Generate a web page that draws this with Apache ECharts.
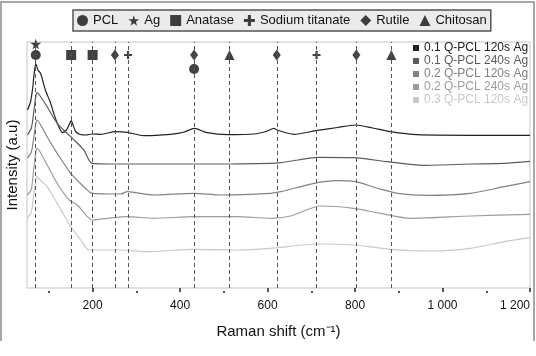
<!DOCTYPE html>
<html>
<head>
<meta charset="utf-8">
<script src="https://cdn.jsdelivr.net/npm/echarts@6/dist/echarts.min.js"></script>
<style>
  html, body { margin: 0; padding: 0; background: #fff; }
  #chart { width: 536px; height: 356px; }
</style>
</head>
<body>
<div id="chart"></div>
<script>
// spectra, [raman shift, offset intensity]
var names = ["0.1 Q-PCL 120s Ag", "0.1 Q-PCL 240s Ag", "0.2 Q-PCL 120s Ag", "0.2 Q-PCL 240s Ag", "0.3 Q-PCL 120s Ag"];
var colors = ["#222222", "#5c5c5c", "#828282", "#9c9c9c", "#c9c9c9"];

var q01_120 = [[51,178],[58,186],[63,200],[66,213],[70,224.5],[75,218],[81,214.7],[92,198],[103,186],[111,175],[120,164],[131,155.3],[140,158],[146,163],[151,167.3],[156,162],[162,156],[172,153.5],[185,153],[199,154],[218,153.7],[253,156.3],[279,155.7],[317,152.3],[378,153.7],[410,156],[432,159.7],[462,155.3],[508,153.3],[569,154],[600,157],[614,159.7],[622,158],[660,153.7],[710,157.3],[760,160.5],[801,163],[840,160],[881,156.3],[942,153.3],[1064,152.7],[1200,152.7]];
var q01_240 = [[51,153],[60,160],[66,178],[70,191],[73,195.3],[80,192],[96,181.3],[119,164.7],[150,151.3],[180,138],[199,124.7],[264,124],[378,124],[493,124],[607,124.7],[630,125.3],[670,128],[714,130.7],[797,130.3],[874,126.3],[957,122.7],[1064,124],[1141,124.7],[1200,126.7]];
var q02_120 = [[51,130],[60,136],[66,152],[70,164],[73,168],[80,164],[96,151.3],[119,134.7],[150,114.7],[180,101.3],[199,94.7],[264,94],[279,96.3],[340,93],[432,94.7],[493,93],[607,94.7],[630,96.3],[706,104.7],[759,107.3],[801,106.3],[850,100],[897,94.7],[966,92.7],[1064,94.7],[1141,101.3],[1200,106.3]];
var q02_240 = [[51,93],[60,99],[66,122],[70,135],[73,139.7],[80,136],[96,123],[119,104.7],[146,88],[165,83],[188,71.3],[199,68],[234,69.7],[279,71.3],[340,69.7],[432,71.3],[531,71.3],[607,69.7],[653,72],[721,82],[797,79.7],[858,74.7],[927,69.7],[1064,72],[1200,73.7]];
var q03_120 = [[51,70],[60,76],[66,96],[70,107],[73,111.3],[80,108],[96,101.3],[119,84.7],[150,61.3],[173,48],[192,38],[264,38],[325,36.3],[432,38.7],[531,38],[607,39.7],[714,44],[797,43],[881,38.7],[973,37],[1064,39.7],[1141,46.3],[1200,50.3]];
var spectra = [q01_120, q01_240, q02_120, q02_240, q03_120];

// reference peaks (dashed guides) and their phase markers
var peakLines = [70, 151, 200, 251, 281, 432, 513, 621, 712, 803, 883];
var rowMain = 233, rowUpper = 244, rowLower = 219;
var phases = ["PCL", "Ag", "Anatase", "Sodium titanate", "Rutile", "Chitosan"];
var phasePeaks = [
  [[70, rowMain], [432, rowLower]],
  [[70, rowUpper]],
  [[151, rowMain], [200, rowMain]],
  [[281, rowMain], [712, rowMain]],
  [[251, rowMain], [432, rowMain], [621, rowMain], [803, rowMain]],
  [[513, rowMain], [883, rowMain]]
];
var majorTicks = [200, 400, 600, 800, 1000, 1200];
var minorTicks = [100, 300, 500, 700, 900, 1100];

var starPath = "path://M50,0 L61,35 L98,35 L68,57 L79,91 L50,70 L21,91 L32,57 L2,35 L39,35 Z";
var plusPath = "path://M36,0 H64 V36 H100 V64 H64 V100 H36 V64 H0 V36 H36 Z";
var phaseSymbols = ["circle", starPath, "rect", plusPath, "diamond", "triangle"];
var phaseSizes = [10, 11, 10, 8, [8, 11], 10];

function fmtShift(v) {
  if (v >= 1000) return Math.floor(v / 1000) + " " + String(v % 1000).padStart(3, "0");
  return String(v);
}

var series = [];
spectra.forEach(function (d, i) {
  series.push({
    name: names[i], type: "line", data: d, smooth: 0.25, symbol: "none",
    lineStyle: { color: colors[i], width: 1.2 }, itemStyle: { color: colors[i] }, z: 3
  });
});
phases.forEach(function (p, i) {
  series.push({
    name: p, type: "scatter", data: phasePeaks[i], symbol: phaseSymbols[i], symbolSize: phaseSizes[i],
    itemStyle: { color: "#111" }, z: 4, silent: true
  });
});
// dashed guides
series.push({
  type: "line", data: [], silent: true,
  markLine: {
    silent: true, symbol: "none", label: { show: false },
    lineStyle: { color: "#555", width: 1, type: [4, 3] },
    data: peakLines.map(function (v) { return { xAxis: v }; })
  }
});

var chart = echarts.init(document.getElementById("chart"));
chart.setOption({
  animation: false,
  grid: {
    left: 27, right: 6, top: 42, bottom: 68, show: true, borderColor: "#c4c4c4", borderWidth: 1,
    containLabel: false, outerBoundsMode: "none"
  },
  xAxis: [{
    type: "value", min: 50, max: 1200, position: "bottom", offset: 3,
    name: "Raman shift (cm\u207B\u00B9)", nameLocation: "middle", nameGap: 33,
    nameTextStyle: { fontFamily: "Liberation Sans", fontSize: 15, color: "#111" },
    axisLine: { show: false }, splitLine: { show: false },
    axisTick: { show: true, customValues: majorTicks, length: 4, lineStyle: { color: "#222", width: 1.5 } },
    axisLabel: {
      customValues: majorTicks, formatter: fmtShift, margin: 9, alignMaxLabel: "right",
      fontFamily: "Liberation Sans", fontSize: 12, color: "#111"
    }
  }, {
    type: "value", min: 50, max: 1200, position: "bottom", offset: 3,
    axisLine: { show: false }, splitLine: { show: false }, axisLabel: { show: false },
    axisTick: { show: true, customValues: minorTicks, length: 2, lineStyle: { color: "#222", width: 1.5 } }
  }],
  yAxis: {
    type: "value", min: 0, max: 246,
    name: "Intensity (a.u)", nameLocation: "middle", nameGap: 7,
    nameTextStyle: { fontFamily: "Liberation Sans", fontSize: 15, color: "#111" },
    axisLine: { show: false }, axisTick: { show: false }, axisLabel: { show: false }, splitLine: { show: false }
  },
  legend: [{
    data: phases, left: 73, top: 10, itemWidth: 11, itemHeight: 11, itemGap: 10,
    padding: [4, 4], backgroundColor: "#ebebeb", borderColor: "#555", borderWidth: 1.5, borderRadius: 0,
    selectedMode: false,
    textStyle: { fontFamily: "Liberation Sans", fontSize: 13, color: "#111" }
  }, {
    data: names.map(function (n, i) { return { name: n, icon: "rect", textStyle: { color: colors[i] } }; }),
    orient: "vertical", left: 413, top: 42, itemWidth: 6, itemHeight: 6, itemGap: 1,
    padding: 0, selectedMode: false,
    textStyle: { fontFamily: "Liberation Sans", fontSize: 12 }
  }],
  graphic: [{
    type: "polyline", silent: true,
    shape: { points: [[1, 341], [1, 2], [534, 2], [534, 341]] },
    style: { stroke: "#8a8a8a", lineWidth: 1.5, fill: null }
  }],
  series: series
});
</script>
</body>
</html>
